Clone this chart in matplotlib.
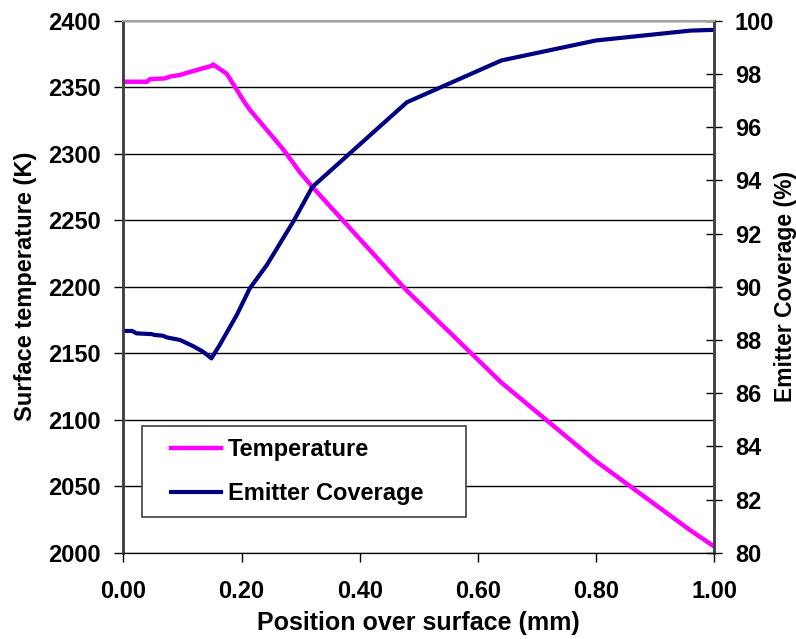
import numpy as np
import matplotlib
matplotlib.use('Agg')
from matplotlib import pyplot as plt
from matplotlib.ticker import FormatStrFormatter
from matplotlib.legend_handler import HandlerLine2D

#   Temperatura superficiale (K)
pos_t = [0.0, 0.04, 0.045, 0.07, 0.08, 0.095, 0.11, 0.13, 0.15, 0.152,
         0.175, 0.192, 0.203, 0.214, 0.271, 0.299, 0.32, 0.48, 0.64,
         0.80, 0.96, 1.0]
temp = [2354, 2354, 2356, 2356.5, 2358, 2359, 2361, 2363.5, 2366, 2367,
        2360, 2348, 2340, 2333, 2303, 2286, 2275, 2197, 2128,
        2069, 2017, 2005]

#   Copertura dell'emettitore (%)
pos_c = [0.0, 0.015, 0.022, 0.048, 0.053, 0.067, 0.073, 0.096, 0.118,
         0.135, 0.149, 0.163, 0.192, 0.214, 0.243, 0.288, 0.32, 0.48,
         0.64, 0.80, 0.96, 1.0]
cover = [88.34, 88.34, 88.25, 88.22, 88.19, 88.16, 88.10, 88.0, 87.77,
         87.56, 87.31, 87.81, 88.94, 89.94, 90.82, 92.46, 93.75, 96.93,
         98.5, 99.25, 99.62, 99.65]

xticks = [0.0, 0.2, 0.4, 0.6, 0.8, 1.0]
yticks_t = np.arange(2000, 2401, 50)
yticks_c = np.arange(80, 101, 2)


class ShiftedLine(HandlerLine2D):
    #   Linea della legenda spostata a destra (margine sinistro piu' ampio)
    def get_xdata(self, legend, xdescent, ydescent, width, height, fontsize):
        x = np.array([0.26 * width, width]) - xdescent
        return x, x


plt.rcParams['font.family'] = ['Liberation Sans', 'DejaVu Sans']
plt.rcParams['font.weight'] = 'bold'

fig = plt.figure(figsize=(7.96, 6.39), dpi=100)
ax = fig.add_axes([0.155, 0.1346, 0.742, 0.8333])
ax2 = ax.twinx()

l1, = ax.plot(pos_t, temp, color='#ff00ff', lw=3.2, label='Temperature')
l2, = ax2.plot(pos_c, cover, color='#000080', lw=3.0, label='Emitter Coverage')

ax.set_xlim(0, 1)
ax.set_ylim(2000, 2400)
ax2.set_ylim(80, 100)
ax.set_xticks(xticks)
ax.set_yticks(yticks_t)
ax2.set_yticks(yticks_c)
ax.xaxis.set_major_formatter(FormatStrFormatter('%.2f'))
ax.yaxis.grid(True, color='black', lw=1.0)
ax.set_axisbelow(True)

ax.tick_params(axis='x', direction='out', length=6.5, width=1.0,
               labelsize=17, pad=13)
ax.tick_params(axis='y', direction='out', length=6.5, width=1.0,
               labelsize=17, pad=9.5)
ax2.tick_params(axis='y', direction='inout', length=11, width=1.0,
                labelsize=17, pad=9.5)
for a in (ax, ax2):
    for lab in a.get_xticklabels() + a.get_yticklabels():
        lab.set_fontweight('bold')
    a.spines['left'].set_color('#404040')
    a.spines['right'].set_color('#404040')
    a.spines['left'].set_linewidth(1.8)
    a.spines['right'].set_linewidth(1.8)
    a.spines['top'].set_color('#a0a0a0')
    a.spines['top'].set_linewidth(1.5)
    a.spines['bottom'].set_color('black')

ax.set_xlabel('Position over surface (mm)', fontsize=18, fontweight='bold',
              labelpad=6)
ax.set_ylabel('Surface temperature (K)', fontsize=17, fontweight='bold',
              labelpad=8)
ax2.set_ylabel('Emitter Coverage (%)', fontsize=16.5, fontweight='bold',
               labelpad=0)

leg = ax2.legend(handles=[l1, l2], loc='lower left',
                 bbox_to_anchor=(0.031, 0.068, 0.549, 0.182), mode='expand',
                 fancybox=False, framealpha=1, edgecolor='#404040',
                 prop={'size': 17, 'weight': 'bold'}, handlelength=2.85,
                 handletextpad=0.3, labelspacing=0.88, borderaxespad=0,
                 borderpad=0.5, handler_map={l1: ShiftedLine(),
                                             l2: ShiftedLine()})
leg.get_frame().set_linewidth(1.2)

fig.savefig('out.png', dpi=100)
